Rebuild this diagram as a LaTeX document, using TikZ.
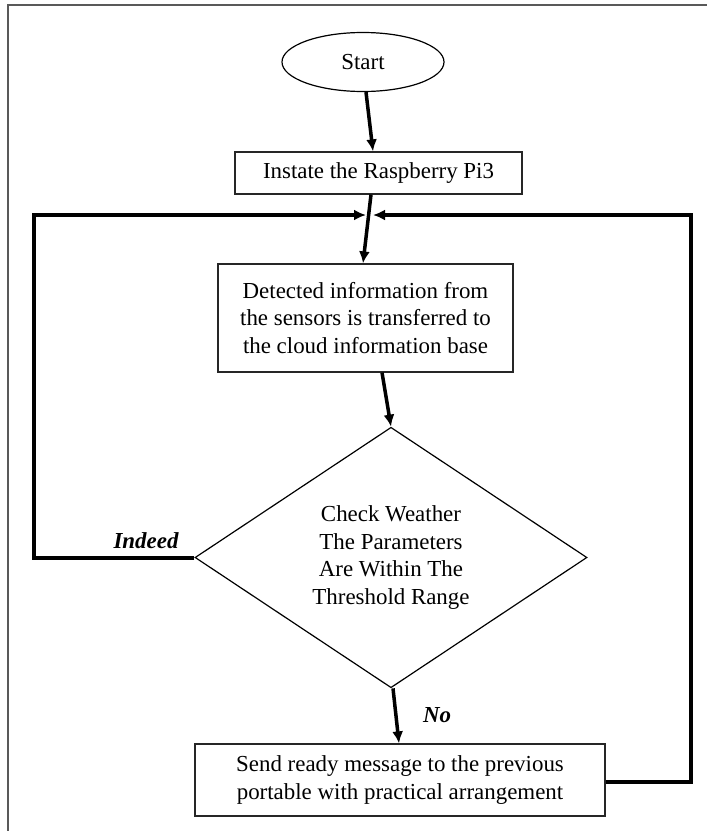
\documentclass[tikz,border=0pt]{standalone}
\usepackage{fontspec}
\setmainfont{Liberation Serif}
\usetikzlibrary{shapes.geometric, arrows.meta}

\begin{document}
\begin{tikzpicture}[x=1bp, y=-1bp,
  every node/.style={font=\fontsize{23}{27.6}\selectfont, inner sep=0pt},
  box/.style={draw=black!85, line width=1.2bp, align=center},
  term/.style={draw, ellipse, line width=1.2bp, minimum width=162bp, minimum height=59bp},
  decision/.style={draw, diamond, line width=1.2bp, minimum width=392bp, minimum height=245bp, align=center},
  flow/.style={line width=3.5bp, -{Latex[length=12bp, width=11bp]}},
  back/.style={line width=4bp, -{Latex[length=12bp, width=11bp]}},
  tag/.style={font=\fontsize{23}{27.6}\selectfont\bfseries\itshape}]
\useasboundingbox (0,0) rectangle (707,831);
% outer frame
\draw[line width=1.3bp, black!65] (8,831) -- (8,5) -- (707,5);

\node[term] (start) at (363,62) {Start};
\node[box, minimum width=287bp, minimum height=42bp] (instate) at (378.5,173) {Instate the Raspberry Pi3};
\node[box, minimum width=295bp, minimum height=108bp] (detect) at (365.5,318) {Detected information from\\the sensors is transferred to\\the cloud information base};
\node[decision] (check) at (391,557.5) {Check Weather\\The Parameters\\Are Within The\\Threshold Range};
\node[box, minimum width=410bp, minimum height=72bp] (send) at (400,780) {Send ready message to the previous\\portable with practical arrangement};

\coordinate (join) at (370,215);
\coordinate (lcorner) at (34,215);
\coordinate (rcorner) at (691,215);

\draw[flow] ([xshift=3bp]start.south) -- ([xshift=-5.5bp]instate.north);
\draw[flow] ([xshift=-7.5bp]instate.south) -- ([xshift=-2.5bp]detect.north);
\draw[flow] ([xshift=16.5bp]detect.south) -- (check.north);
\draw[flow] ([xshift=2bp]check.south) -- ([xshift=-1bp]send.north);

% loops back to the top
\draw[back] (check.west) -| (lcorner) -- ([xshift=-4bp]join);
\draw[back] ([yshift=-2bp]send.east) -| (rcorner) -- ([xshift=3bp]join);

\node[tag] (yes) at (146,541) {Indeed};
\node[tag] (no) at (437,715) {No};
\end{tikzpicture}
\end{document}
